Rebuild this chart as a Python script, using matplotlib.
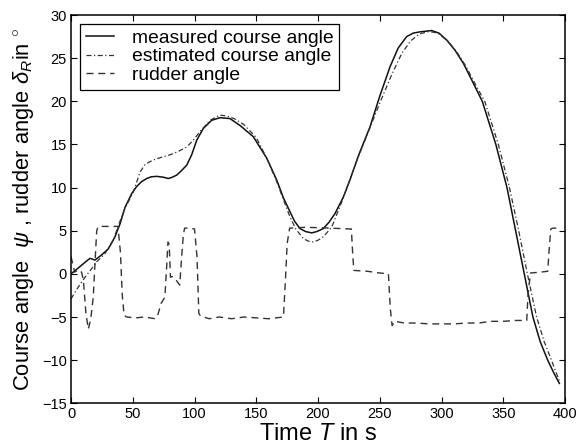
import numpy as np
import matplotlib
matplotlib.use("Agg")
import matplotlib.pyplot as plt

plt.rcParams['font.family'] = ['Liberation Sans', 'DejaVu Sans']
plt.rcParams['mathtext.fontset'] = 'custom'
plt.rcParams['mathtext.rm'] = 'Liberation Sans'
plt.rcParams['mathtext.it'] = 'Liberation Sans:italic'

# measured course angle (solid)
t_meas = [0, 6, 12.7, 15.4, 19.4, 24.8, 30.2, 35.6, 39.7, 43.7, 49.1, 53, 57.2, 61.3,
          65, 69.4, 74.8, 78.8, 82, 85.6, 89, 93.7, 97.7, 101.8, 107.1, 113.9, 120.6,
          128.7, 136.8, 147.6, 158.5, 166.5, 172, 177.3, 181, 185.4, 190, 194.9, 199,
          204.3, 209, 213.8, 220.5, 225.9, 233, 242, 250, 258.3, 265, 271.8, 277,
          282.6, 292, 298, 304.2, 311, 317.7, 324, 333, 344, 353, 360,
          367, 374, 380, 386, 391, 395.4]
y_meas = [0, 0.7, 1.5, 1.8, 1.6, 2.2, 2.9, 4.3, 5.8, 7.7, 9.3, 10.1, 10.7, 11.05,
          11.25, 11.3, 11.2, 11.05, 11.2, 11.45, 11.9, 12.6, 13.8, 15.5, 16.85, 17.8, 18.1,
          18.0, 17.2, 15.9, 13.4, 10.9, 8.8, 7.2, 6.1, 5.25, 4.9, 4.75, 4.9,
          5.25, 6.0, 7.0, 8.9, 10.9, 13.8, 17.0, 20.6, 24.0, 26.2, 27.5, 27.9,
          28.05, 28.2, 27.9, 27.1, 25.9, 24.4, 22.6, 20.0, 15.0, 10.0, 5.0,
          0.0, -5.0, -7.9, -10.0, -11.5, -12.7]

# estimated course angle (dash-dot)
t_est = [0, 6, 11.3, 16.7, 20.8, 27.5, 34.3, 38.3, 43.7, 50.5, 55.9, 60, 66.6, 73,
         80.2, 87, 93.7, 99, 104.5, 112.6, 120.6, 126, 132, 140, 150, 158.5, 166.5,
         172, 177.3, 182, 188, 192, 196.2, 200, 204.3, 211, 217.8, 223.2, 230, 240,
         250, 260, 268, 275, 282, 290, 297, 305, 312, 320, 328, 335, 346, 355, 362.5,
         369.5, 377, 383, 389, 395.4]
y_est = [-2.9, -1.5, -0.4, 0.6, 1.4, 2.35, 3.9, 5.6, 7.6, 9.5, 11.8, 12.7, 13.2, 13.5,
         13.8, 14.2, 14.7, 15.5, 16.5, 17.8, 18.4, 18.3, 18.0, 17.3, 15.8, 13.4, 10.7,
         8.6, 6.6, 5.2, 4.1, 3.8, 3.7, 3.9, 4.3, 5.4, 7.8, 9.9, 12.6, 16.2,
         19.8, 23.2, 25.6, 27.0, 27.8, 28.1, 27.9, 27.0, 25.8, 24.0, 21.8, 20.0, 15.0, 10.0,
         5.0, 0.0, -5.0, -7.8, -10.0, -12.4]

# rudder angle (dashed)
t_rud = [0, 3, 6, 8.5, 10, 12, 14, 16, 18, 19.5, 20.8, 22, 30, 38, 40, 41.5, 43, 45,
         52, 60, 68, 70, 73, 76, 77.5, 78.5, 79.5, 80.5, 82, 84, 86, 88, 89.6, 91, 92,
         96, 100, 102, 103.5, 105, 112, 120, 130, 140, 150, 160, 172, 173.5, 175,
         177, 190, 210, 227, 228, 229, 240, 250, 257, 258.5, 260, 262, 270, 280,
         290, 300, 310, 320, 330, 340, 350, 360, 369, 370, 372, 380, 386, 387, 388.5,
         390, 394.5]
y_rud = [2.0, 0.2, 0.5, 0.2, -0.7, -4.5, -6.4, -5.2, -2.7, 1.5, 5.0, 5.5, 5.5, 5.5, 2.5,
         -2.5, -4.8, -5.0, -5.1, -5.0, -5.2, -4.9, -3.4, -2.7, 1.0, 3.7, 3.4, -0.4, -0.3,
         -0.5, -0.9, -1.3, 2.0, 4.6, 5.3, 5.3, 5.2, 2.0, -4.6, -4.9, -5.2, -5.0, -5.2,
         -5.0, -5.1, -5.2, -5.0, -1.0, 3.5, 5.3, 5.4, 5.3, 5.2, 2.5, 0.4, 0.3, 0.1, 0.0,
         -4.0, -6.0, -5.5, -5.7, -5.7, -5.8, -5.8, -5.8, -5.7, -5.7, -5.5, -5.5, -5.4,
         -5.4, -2.5, 0.1, 0.2, 0.3, 2.5, 5.2, 5.3, 5.3]

x_ticks = [0, 50, 100, 150, 200, 250, 300, 350, 400]
y_ticks = [-15, -10, -5, 0, 5, 10, 15, 20, 25, 30]

fig = plt.figure(figsize=(5.86, 4.47), dpi=100)
ax = fig.add_axes([0.1212, 0.0978, 0.8430, 0.8686])

ax.plot(t_meas, y_meas, '-', color='#111111', lw=1.1, label='measured course angle')
ax.plot(t_est, y_est, color='#333333', lw=0.9, dashes=(4, 2, 1, 2),
        label='estimated course angle')
ax.plot(t_rud, y_rud, color='#333333', lw=1.0, dashes=(5, 3.5), label='rudder angle')

ax.set_xlim(0, 400)
ax.set_ylim(-15, 30)
ax.set_xticks(x_ticks)
ax.set_yticks(y_ticks)
ax.tick_params(direction='in', top=True, right=True, length=4, width=0.8,
               labelsize=10.5, pad=3)
for s in ax.spines.values():
    s.set_linewidth(1.1)

ax.set_xlabel(r'Time $T$ in s', fontsize=17, labelpad=1)
ax.set_ylabel(r'Course angle  $\psi$ , rudder angle $\delta_R$in $^{\circ}$',
              fontsize=15.8, labelpad=4)

leg = ax.legend(loc='upper left', fontsize=13.9, handlelength=1.5, labelspacing=0.05,
                borderpad=0.3, handletextpad=0.9, borderaxespad=0.45,
                fancybox=False, framealpha=1)
leg.get_frame().set_edgecolor('black')
leg.get_frame().set_linewidth(0.9)

fig.savefig('out.png', dpi=100)
